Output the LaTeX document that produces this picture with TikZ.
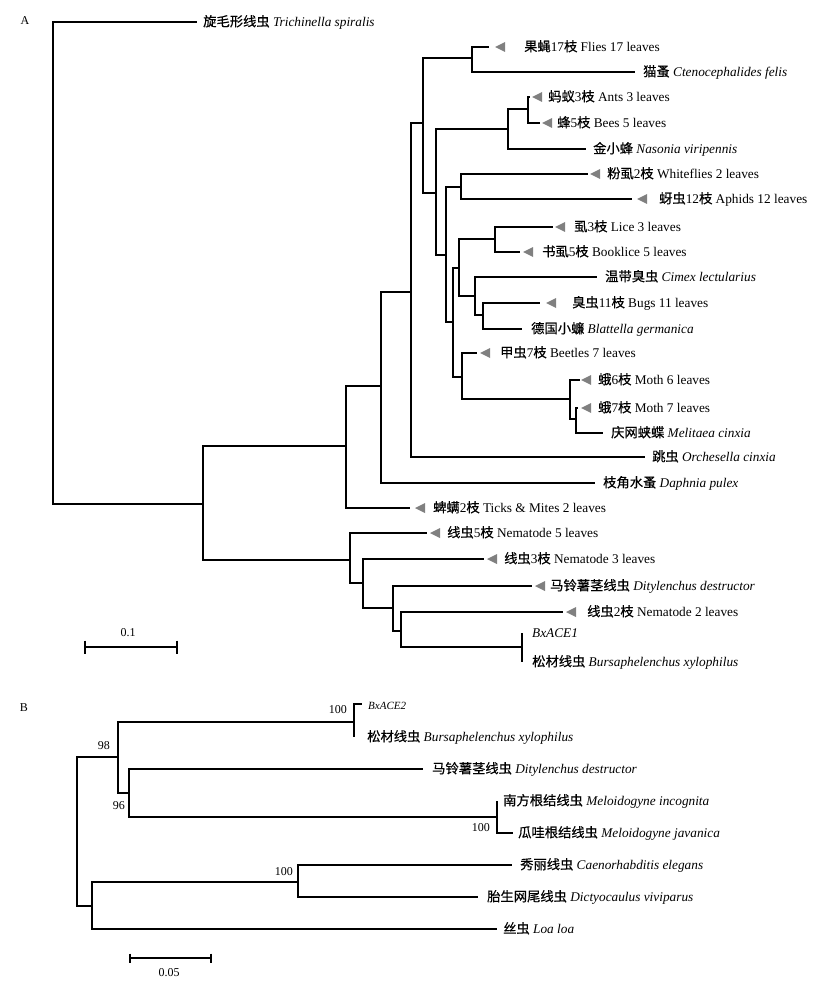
\documentclass[tikz,border=0pt]{standalone}
\usepackage{fontspec}
\setmainfont{Liberation Serif}
\newfontfamily\cnfont[FakeBold=0.5]{Noto Sans CJK SC}
\newcommand\zh[1]{{\cnfont #1}}
\usepackage{tikz}

\tikzset{
  branch/.style={line width=1.3pt},
  leaf/.style={anchor=west, inner sep=0pt, font=\fontsize{13.3}{15}\selectfont,
               text height=10pt, text depth=1.4pt},
  boot/.style={anchor=east, inner sep=0pt, font=\fontsize{12}{14}\selectfont},
  panel/.style={inner sep=0pt, font=\fontsize{12}{14}\selectfont},
  collapsed/.style={fill=gray}
}

\begin{document}
\begin{tikzpicture}[x=1pt, y=-1pt]
    \useasboundingbox (0,0) rectangle (824,984);

    % ---------------- A ----------------
    \node[panel] (pA) at (25,21) {A};

    % inner nodes
    \coordinate (r)   at (53,263);
    \coordinate (a1)  at (203,504);
    \coordinate (a2)  at (346,446);
    \coordinate (a3)  at (350,560);
    \coordinate (a4)  at (381,386);
    \coordinate (a5)  at (411,292);
    \coordinate (a6)  at (423,123);
    \coordinate (a7)  at (472,58);
    \coordinate (a8)  at (436,193);
    \coordinate (a9)  at (508,129);
    \coordinate (a10) at (446,255);
    \coordinate (a11) at (528,109);
    \coordinate (a12) at (461,187);
    \coordinate (a13) at (453,322);
    \coordinate (a14) at (459,268);
    \coordinate (a15) at (462,377);
    \coordinate (a16) at (495,239);
    \coordinate (a17) at (475,296);
    \coordinate (a18) at (483,315);
    \coordinate (a19) at (570,399);
    \coordinate (a20) at (576,419);
    \coordinate (a21) at (363,583);
    \coordinate (a22) at (393,608);
    \coordinate (a23) at (401,631);
    \coordinate (a24) at (522,647);

    % branch tips
    \coordinate (t1)  at (197,22);
    \coordinate (t2)  at (489,47);
    \coordinate (t3)  at (635,72);
    \coordinate (t4)  at (530,97);
    \coordinate (t5)  at (540,123);
    \coordinate (t6)  at (586,149);
    \coordinate (t7)  at (588,174);
    \coordinate (t8)  at (632,199);
    \coordinate (t9)  at (553,227);
    \coordinate (t10) at (520,252);
    \coordinate (t11) at (597,277);
    \coordinate (t12) at (540,303);
    \coordinate (t13) at (522,329);
    \coordinate (t14) at (477,353);
    \coordinate (t15) at (580,380);
    \coordinate (t16) at (578,408);
    \coordinate (t17) at (603,433);
    \coordinate (t18) at (645,457);
    \coordinate (t19) at (595,483);
    \coordinate (t20) at (410,508);
    \coordinate (t21) at (427,533);
    \coordinate (t22) at (484,559);
    \coordinate (t23) at (532,586);
    \coordinate (t24) at (563,612);
    \coordinate (t25) at (522,633);
    \coordinate (t26) at (522,662);

    % branches
    \draw[branch] (r) |- (t1)    (r) |- (a1)
                  (a1) |- (a2)   (a1) |- (a3)
                  (a2) |- (a4)   (a2) |- (t20)
                  (a4) |- (a5)   (a4) |- (t19)
                  (a5) |- (a6)   (a5) |- (t18)
                  (a6) |- (a7)   (a6) |- (a8)
                  (a7) |- (t2)   (a7) |- (t3)
                  (a8) |- (a9)   (a8) |- (a10)
                  (a9) |- (a11)  (a9) |- (t6)
                  (a11) |- (t4)  (a11) |- (t5)
                  (a10) |- (a12) (a10) |- (a13)
                  (a12) |- (t7)  (a12) |- (t8)
                  (a13) |- (a14) (a13) |- (a15)
                  (a14) |- (a16) (a14) |- (a17)
                  (a16) |- (t9)  (a16) |- (t10)
                  (a17) |- (t11) (a17) |- (a18)
                  (a18) |- (t12) (a18) |- (t13)
                  (a15) |- (t14) (a15) |- (a19)
                  (a19) |- (t15) (a19) |- (a20)
                  (a20) |- (t16) (a20) |- (t17)
                  (a3) |- (t21)  (a3) |- (a21)
                  (a21) |- (t22) (a21) |- (a22)
                  (a22) |- (t23) (a22) |- (a23)
                  (a23) |- (t24) (a23) |- (a24)
                  (a24) |- (t25) (a24) |- (t26);

    % collapsed clades
    \fill[collapsed] (495,47)  -- ++(10,-5) -- ++(0,10) -- cycle;
    \fill[collapsed] (532,97)  -- ++(10,-5) -- ++(0,10) -- cycle;
    \fill[collapsed] (542,123) -- ++(10,-5) -- ++(0,10) -- cycle;
    \fill[collapsed] (590,174) -- ++(10,-5) -- ++(0,10) -- cycle;
    \fill[collapsed] (637,199) -- ++(10,-5) -- ++(0,10) -- cycle;
    \fill[collapsed] (555,227) -- ++(10,-5) -- ++(0,10) -- cycle;
    \fill[collapsed] (523,252) -- ++(10,-5) -- ++(0,10) -- cycle;
    \fill[collapsed] (546,303) -- ++(10,-5) -- ++(0,10) -- cycle;
    \fill[collapsed] (480,353) -- ++(10,-5) -- ++(0,10) -- cycle;
    \fill[collapsed] (581,380) -- ++(10,-5) -- ++(0,10) -- cycle;
    \fill[collapsed] (581,408) -- ++(10,-5) -- ++(0,10) -- cycle;
    \fill[collapsed] (415,508) -- ++(10,-5) -- ++(0,10) -- cycle;
    \fill[collapsed] (430,533) -- ++(10,-5) -- ++(0,10) -- cycle;
    \fill[collapsed] (487,559) -- ++(10,-5) -- ++(0,10) -- cycle;
    \fill[collapsed] (535,586) -- ++(10,-5) -- ++(0,10) -- cycle;
    \fill[collapsed] (566,612) -- ++(10,-5) -- ++(0,10) -- cycle;

    % taxa
    \node[leaf] (l1)  at (203,22)  {\zh{旋毛形线虫} \textit{Trichinella spiralis}};
    \node[leaf] (l2)  at (524,47)  {\zh{果蝇}17\zh{枝} Flies 17 leaves};
    \node[leaf] (l3)  at (643,72)  {\zh{猫蚤} \textit{Ctenocephalides felis}};
    \node[leaf] (l4)  at (548,97)  {\zh{蚂蚁}3\zh{枝} Ants 3 leaves};
    \node[leaf] (l5)  at (557,123) {\zh{蜂}5\zh{枝} Bees 5 leaves};
    \node[leaf] (l6)  at (593,149) {\zh{金小蜂} \textit{Nasonia viripennis}};
    \node[leaf] (l7)  at (607,174) {\zh{粉虱}2\zh{枝} Whiteflies 2 leaves};
    \node[leaf] (l8)  at (659,199) {\zh{蚜虫}12\zh{枝} Aphids 12 leaves};
    \node[leaf] (l9)  at (574,227) {\zh{虱}3\zh{枝} Lice 3 leaves};
    \node[leaf] (l10) at (542,252) {\zh{书虱}5\zh{枝} Booklice 5 leaves};
    \node[leaf] (l11) at (605,277) {\zh{温带臭虫} \textit{Cimex lectularius}};
    \node[leaf] (l12) at (572,303) {\zh{臭虫}11\zh{枝} Bugs 11 leaves};
    \node[leaf] (l13) at (531,329) {\zh{德国小蠊} \textit{Blattella germanica}};
    \node[leaf] (l14) at (500,353) {\zh{甲虫}7\zh{枝} Beetles 7 leaves};
    \node[leaf] (l15) at (598,380) {\zh{蛾}6\zh{枝} Moth 6 leaves};
    \node[leaf] (l16) at (598,408) {\zh{蛾}7\zh{枝} Moth 7 leaves};
    \node[leaf] (l17) at (611,433) {\zh{庆网蛱蝶} \textit{Melitaea cinxia}};
    \node[leaf] (l18) at (652,457) {\zh{跳虫} \textit{Orchesella cinxia}};
    \node[leaf] (l19) at (603,483) {\zh{枝角水蚤} \textit{Daphnia pulex}};
    \node[leaf] (l20) at (433,508) {\zh{蜱螨}2\zh{枝} Ticks \& Mites 2 leaves};
    \node[leaf] (l21) at (447,533) {\zh{线虫}5\zh{枝} Nematode 5 leaves};
    \node[leaf] (l22) at (504,559) {\zh{线虫}3\zh{枝} Nematode 3 leaves};
    \node[leaf] (l23) at (550,586) {\zh{马铃薯茎线虫} \textit{Ditylenchus destructor}};
    \node[leaf] (l24) at (587,612) {\zh{线虫}2\zh{枝} Nematode 2 leaves};
    \node[leaf] (l25) at (532,633) {\textit{BxACE1}};
    \node[leaf] (l26) at (532,662) {\zh{松材线虫} \textit{Bursaphelenchus xylophilus}};

    % scale bar
    \coordinate (sa1) at (85,647);
    \coordinate (sa2) at (177,647);
    \draw[branch] (sa1) -- (sa2)
                  (sa1) ++(0,-6.5) -- ++(0,13)
                  (sa2) ++(0,-6.5) -- ++(0,13);
    \node[panel] (sa) at (128,633) {0.1};

    % ---------------- B ----------------
    \node[panel] (pB) at (24,708) {B};

    \coordinate (b0) at (77,831);
    \coordinate (b1) at (118,757);
    \coordinate (b2) at (92,906);
    \coordinate (b3) at (354,722);
    \coordinate (b4) at (129,793);
    \coordinate (b5) at (497,817);
    \coordinate (b6) at (298,882);

    \coordinate (s1) at (362,704);
    \coordinate (s2) at (354,737);
    \coordinate (s3) at (423,769);
    \coordinate (s4) at (497,801);
    \coordinate (s5) at (513,833);
    \coordinate (s6) at (512,865);
    \coordinate (s7) at (478,897);
    \coordinate (s8) at (497,929);

    \draw[branch] (b0) |- (b1)  (b0) |- (b2)
                  (b1) |- (b3)  (b1) |- (b4)
                  (b3) |- (s1)  (b3) |- (s2)
                  (b4) |- (s3)  (b4) |- (b5)
                  (b5) |- (s4)  (b5) |- (s5)
                  (b2) |- (b6)  (b2) |- (s8)
                  (b6) |- (s6)  (b6) |- (s7);

    \node[leaf, font=\fontsize{11}{13}\selectfont] (m1) at (368,705) {\textit{BxACE2}};
    \node[leaf] (m2) at (367,737) {\zh{松材线虫} \textit{Bursaphelenchus xylophilus}};
    \node[leaf] (m3) at (432,769) {\zh{马铃薯茎线虫} \textit{Ditylenchus destructor}};
    \node[leaf] (m4) at (503,801) {\zh{南方根结线虫} \textit{Meloidogyne incognita}};
    \node[leaf] (m5) at (518,833) {\zh{瓜哇根结线虫} \textit{Meloidogyne javanica}};
    \node[leaf] (m6) at (520,865) {\zh{秀丽线虫} \textit{Caenorhabditis elegans}};
    \node[leaf] (m7) at (487,897) {\zh{胎生网尾线虫} \textit{Dictyocaulus viviparus}};
    \node[leaf] (m8) at (503,929) {\zh{丝虫} \textit{Loa loa}};

    % bootstrap values
    \node[boot] (v1) at (347,710) {100};
    \node[boot] (v2) at (110,746) {98};
    \node[boot] (v3) at (125,806) {96};
    \node[boot] (v4) at (490,828) {100};
    \node[boot] (v5) at (293,872) {100};

    % scale bar
    \coordinate (sb1) at (130,958);
    \coordinate (sb2) at (211,958);
    \draw[branch] (sb1) -- (sb2)
                  (sb1) ++(0,-4.5) -- ++(0,9)
                  (sb2) ++(0,-4.5) -- ++(0,9);
    \node[panel] (sb) at (169,973) {0.05};
\end{tikzpicture}
\end{document}
